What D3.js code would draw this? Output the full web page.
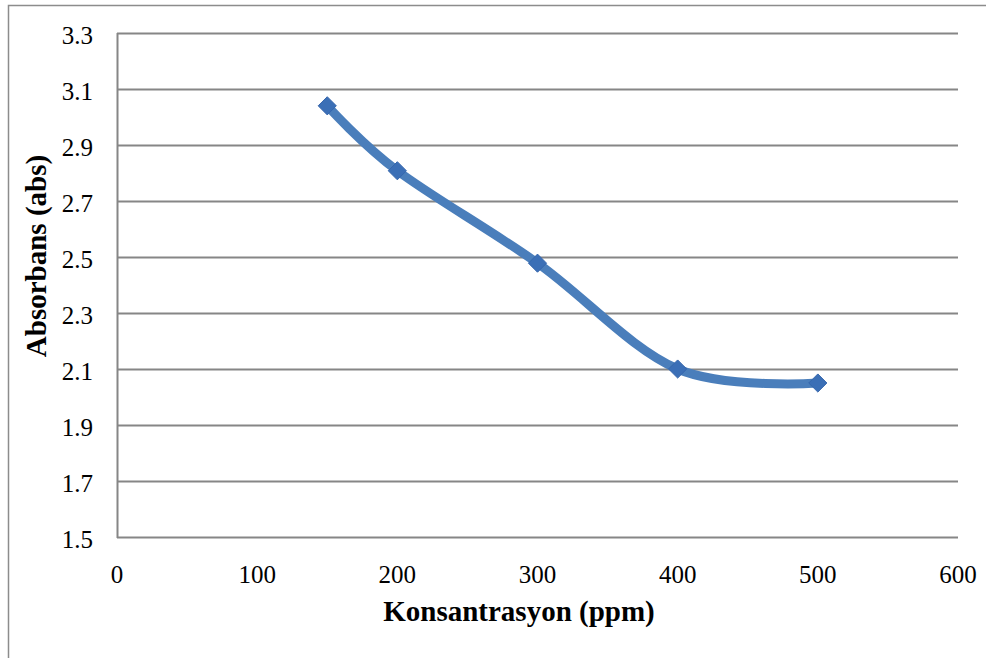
<!DOCTYPE html>
<html>
<head>
<meta charset="utf-8">
<script src="https://cdn.jsdelivr.net/npm/d3@7"></script>
<style>
  body { margin: 0; background: #fff; }
  svg { display: block; }
  text { font-family: "Liberation Serif", "Times New Roman", serif; fill: #000; }
</style>
</head>
<body>
<script>
// chart data
var concentrations = [150, 200, 300, 400, 500];
var absorbance = [3.04, 2.808, 2.478, 2.1, 2.05];
var xTicks = [0, 100, 200, 300, 400, 500, 600];
var yTicks = [1.5, 1.7, 1.9, 2.1, 2.3, 2.5, 2.7, 2.9, 3.1, 3.3];

var w = 986;
var h = 658;

var svg = d3.select("body")
            .append("svg")
            .attr("width", w)
            .attr("height", h);

// outer chart border (runs off the right and bottom edge)
svg.append("rect")
   .attr("x", 8.5)
   .attr("y", 5.5)
   .attr("width", 1000)
   .attr("height", 700)
   .attr("fill", "none")
   .attr("stroke", "#8c8c8c")
   .attr("stroke-width", 1.5);

// plot area
var plotLeft = 117, plotRight = 958, plotTop = 33, plotBottom = 537;

var x = d3.scaleLinear().domain([0, 600]).range([plotLeft, plotRight]);
var y = d3.scaleLinear().domain([1.5, 3.3]).range([plotBottom, plotTop]);

// horizontal gridlines
svg.append("g")
   .selectAll("line")
   .data(yTicks)
   .enter()
   .append("line")
   .attr("x1", plotLeft)
   .attr("x2", plotRight)
   .attr("y1", function(d) { return Math.round(y(d)) + 0.5; })
   .attr("y2", function(d) { return Math.round(y(d)) + 0.5; })
   .attr("stroke", "#868686")
   .attr("stroke-width", 2);

// y axis line
svg.append("line")
   .attr("x1", plotLeft + 0.5)
   .attr("x2", plotLeft + 0.5)
   .attr("y1", plotTop)
   .attr("y2", plotBottom + 1)
   .attr("stroke", "#868686")
   .attr("stroke-width", 2);

// y tick labels
svg.append("g")
   .selectAll("text")
   .data(yTicks)
   .enter()
   .append("text")
   .attr("x", 93)
   .attr("y", function(d) { return y(d); })
   .attr("dy", "0.45em")
   .attr("text-anchor", "end")
   .style("font-size", "25px")
   .text(function(d) { return d3.format(".1f")(d); });

// x tick labels
svg.append("g")
   .selectAll("text")
   .data(xTicks)
   .enter()
   .append("text")
   .attr("x", function(d) { return x(d); })
   .attr("y", 583)
   .attr("text-anchor", "middle")
   .style("font-size", "25px")
   .text(function(d) { return d; });

// axis titles
svg.append("text")
   .attr("x", 519)
   .attr("y", 621)
   .attr("text-anchor", "middle")
   .style("font-size", "29px")
   .style("font-weight", "bold")
   .text("Konsantrasyon (ppm)");

svg.append("text")
   .attr("transform", "translate(46,256) rotate(-90)")
   .attr("text-anchor", "middle")
   .style("font-size", "29px")
   .style("font-weight", "bold")
   .text("Absorbans (abs)");

// smoothed line
var points = concentrations.map(function(c, i) { return [c, absorbance[i]]; });

var line = d3.line()
             .x(function(d) { return x(d[0]); })
             .y(function(d) { return y(d[1]); })
             .curve(d3.curveCardinal.tension(0));

svg.append("path")
   .datum(points)
   .attr("d", line)
   .attr("fill", "none")
   .attr("stroke", "#4a7ebb")
   .attr("stroke-width", 9)
   .attr("stroke-linejoin", "round");

// diamond markers
var diamond = d3.symbol().type(d3.symbolDiamond2).size(210);

svg.append("g")
   .selectAll("path")
   .data(points)
   .enter()
   .append("path")
   .attr("d", diamond)
   .attr("transform", function(d) { return "translate(" + x(d[0]) + "," + y(d[1]) + ")"; })
   .attr("fill", "#3b6fb6")
   .attr("stroke", "#3566ad")
   .attr("stroke-width", 1);
</script>
</body>
</html>
